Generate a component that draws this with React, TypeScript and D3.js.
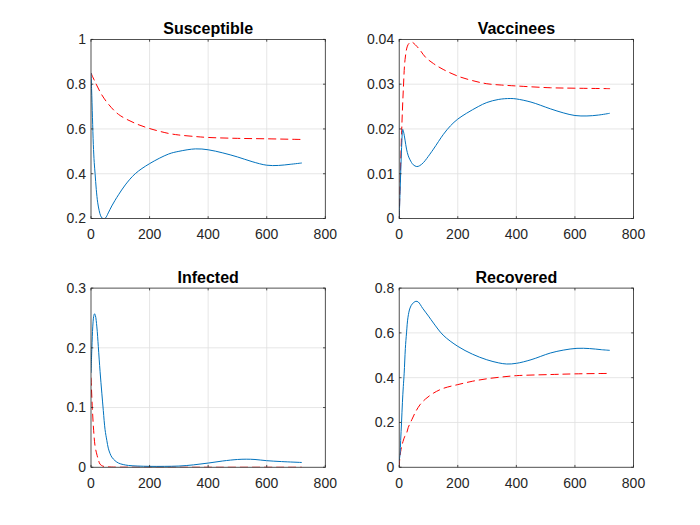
import * as d3 from 'd3';

// time ticks shared by all four panels
const timeTicks = [0, 200, 400, 600, 800];

// [day, value]; solid = blue curve, dashed = red curve
const susceptibleSolid: [number, number][] = [
  [0, 0.85], [2, 0.78], [5, 0.65], [8, 0.53], [11, 0.45], [14, 0.4], [18, 0.33], [23, 0.27],
  [28, 0.235], [33, 0.212], [38, 0.202], [44, 0.198], [50, 0.203], [59, 0.225], [71, 0.256],
  [82, 0.281], [94, 0.306], [117, 0.35], [151, 0.4], [200, 0.445], [265, 0.488], [300, 0.5],
  [357, 0.511], [400, 0.507], [450, 0.493], [500, 0.475], [550, 0.454], [600, 0.438],
  [640, 0.437], [680, 0.442], [720, 0.448],
];
const susceptibleDashed: [number, number][] = [
  [0, 0.85], [14, 0.81], [37, 0.752], [60, 0.71], [94, 0.665], [151, 0.625], [200, 0.602],
  [265, 0.58], [300, 0.573], [357, 0.566], [400, 0.562], [500, 0.558], [600, 0.556], [720, 0.553],
];
const susceptibleTicks = [0.2, 0.4, 0.6, 0.8, 1];

const vaccineesSolid: [number, number][] = [
  [0, 0], [3, 0.006], [6, 0.012], [9, 0.017], [12, 0.0199], [15, 0.0193], [20, 0.0175],
  [25, 0.0155], [31, 0.014], [37, 0.0131], [48, 0.012], [60, 0.0116], [70, 0.0118],
  [83, 0.0125], [94, 0.0134], [117, 0.0155], [151, 0.0188], [175, 0.0207], [200, 0.0222],
  [230, 0.0235], [270, 0.025], [299, 0.0259], [340, 0.0266], [379, 0.0268], [400, 0.0267],
  [450, 0.026], [516, 0.0245], [560, 0.0236], [600, 0.023], [641, 0.0229], [680, 0.0231],
  [719, 0.0235],
];
const vaccineesDashed: [number, number][] = [
  [0, 0], [4, 0.01], [8.5, 0.0197], [14, 0.0287], [20, 0.0355], [28, 0.0385], [35, 0.0392],
  [43, 0.0394], [55, 0.0388], [70, 0.0377], [90, 0.036], [117, 0.0346], [150, 0.0333],
  [200, 0.0318], [250, 0.0308], [299, 0.0301], [350, 0.0298], [400, 0.0296], [516, 0.0292],
  [600, 0.0291], [720, 0.029],
];
const vaccineesTicks = [0, 0.01, 0.02, 0.03, 0.04];

const infectedSolid: [number, number][] = [
  [0, 0.158], [3, 0.2], [6, 0.235], [9, 0.252], [12, 0.257], [15, 0.254], [20, 0.235],
  [25, 0.202], [31, 0.16], [37, 0.124], [42, 0.095], [48, 0.063], [54, 0.045], [59, 0.032],
  [65, 0.023], [71, 0.017], [82, 0.011], [94, 0.007], [110, 0.0045], [128, 0.003], [160, 0.002],
  [200, 0.0015], [250, 0.0015], [300, 0.002], [350, 0.004], [400, 0.007], [450, 0.0105],
  [500, 0.013], [530, 0.0135], [560, 0.013], [600, 0.011], [650, 0.0095], [720, 0.008],
];
const infectedDashed: [number, number][] = [
  [0, 0.15], [4.6, 0.099], [9, 0.062], [14, 0.035], [21, 0.0195], [26, 0.011], [31, 0.005],
  [40, 0.002], [48, 0.001], [70, 0.0003], [120, 0.0001], [200, 0], [400, 0], [720, 0],
];
const infectedTicks = [0, 0.1, 0.2, 0.3];

const recoveredSolid: [number, number][] = [
  [0, 0.03], [3, 0.06], [5, 0.12], [8, 0.2], [11, 0.29], [14, 0.36], [17, 0.42], [21, 0.53],
  [25, 0.6], [30, 0.67], [37, 0.711], [45, 0.73], [57, 0.741], [65, 0.738], [80, 0.71],
  [100, 0.675], [117, 0.644], [150, 0.59], [200, 0.54], [250, 0.505], [299, 0.48], [340, 0.466],
  [367, 0.461], [400, 0.464], [450, 0.48], [516, 0.51], [560, 0.523], [607, 0.531], [650, 0.53],
  [690, 0.525], [719, 0.522],
];
const recoveredDashed: [number, number][] = [
  [0, 0], [2, 0.04], [5, 0.07], [8, 0.09], [13, 0.115], [19, 0.138], [26, 0.155], [31, 0.178],
  [43, 0.212], [55, 0.245], [71, 0.279], [90, 0.305], [117, 0.331], [150, 0.352], [200, 0.369],
  [250, 0.384], [299, 0.395], [350, 0.403], [400, 0.409], [516, 0.414], [600, 0.417], [719, 0.419],
];
const recoveredTicks = [0, 0.2, 0.4, 0.6, 0.8];

const W = 700;
const H = 525;
const font = '"Liberation Sans", Arial, Helvetica, sans-serif';
const axisColor = '#262626';
const gridColor = '#dfdfdf';
const blue = '#0072BD';
const red = '#FF0000';

// MATLAB default subplot(2,2,k) positions
const colX = [[91, 325.3], [399.2, 633.5]];
const rowY = [[39.4, 218.5], [288.1, 467.25]];

const panels = [
  { title: 'Susceptible', solid: susceptibleSolid, dashed: susceptibleDashed, ticks: susceptibleTicks, col: 0, row: 0 },
  { title: 'Vaccinees', solid: vaccineesSolid, dashed: vaccineesDashed, ticks: vaccineesTicks, col: 1, row: 0 },
  { title: 'Infected', solid: infectedSolid, dashed: infectedDashed, ticks: infectedTicks, col: 0, row: 1 },
  { title: 'Recovered', solid: recoveredSolid, dashed: recoveredDashed, ticks: recoveredTicks, col: 1, row: 1 },
];

const Panel = ({ p, i }: { p: typeof panels[number]; i: number }) => {
  const [x0, x1] = colX[p.col];
  const [y0, y1] = rowY[p.row];
  const x = d3.scaleLinear().domain([0, 800]).range([x0, x1]);
  const yDomain = d3.extent(p.ticks) as [number, number];
  const y = d3.scaleLinear().domain(yDomain).range([y1, y0]);
  const line = d3.line<[number, number]>()
    .x(d => x(d[0]))
    .y(d => y(d[1]))
    .curve(d3.curveCatmullRom.alpha(0.5));
  const tl = 2.3;
  const clipId = `clip-${i}`;

  return (
    <g>
      <defs>
        <clipPath id={clipId}>
          <rect x={x0} y={y0} width={x1 - x0} height={y1 - y0} />
        </clipPath>
      </defs>
      <rect x={x0} y={y0} width={x1 - x0} height={y1 - y0} fill="#fff" />
      {timeTicks.slice(1, -1).map(t => (
        <line key={`gx${t}`} x1={x(t)} x2={x(t)} y1={y0} y2={y1} stroke={gridColor} strokeWidth={0.8} />
      ))}
      {p.ticks.slice(1, -1).map(v => (
        <line key={`gy${v}`} x1={x0} x2={x1} y1={y(v)} y2={y(v)} stroke={gridColor} strokeWidth={0.8} />
      ))}
      <g clipPath={`url(#${clipId})`} fill="none">
        <path d={line(p.dashed) ?? ''} stroke={red} strokeWidth={1} strokeDasharray="8,4" />
        <path d={line(p.solid) ?? ''} stroke={blue} strokeWidth={1} />
      </g>
      <rect x={x0} y={y0} width={x1 - x0} height={y1 - y0} fill="none" stroke={axisColor} strokeWidth={0.8} />
      {timeTicks.map(t => (
        <g key={`tx${t}`}>
          <line x1={x(t)} x2={x(t)} y1={y1} y2={y1 - tl} stroke={axisColor} strokeWidth={0.8} />
          <line x1={x(t)} x2={x(t)} y1={y0} y2={y0 + tl} stroke={axisColor} strokeWidth={0.8} />
          <text x={x(t)} y={y1 + 20.5} textAnchor="middle" fontSize={14} fill={axisColor} fontFamily={font}>
            {t}
          </text>
        </g>
      ))}
      {p.ticks.map(v => (
        <g key={`ty${v}`}>
          <line x1={x0} x2={x0 + tl} y1={y(v)} y2={y(v)} stroke={axisColor} strokeWidth={0.8} />
          <line x1={x1} x2={x1 - tl} y1={y(v)} y2={y(v)} stroke={axisColor} strokeWidth={0.8} />
          <text x={x0 - 5} y={y(v)} dy="0.35em" textAnchor="end" fontSize={14} fill={axisColor} fontFamily={font}>
            {String(v)}
          </text>
        </g>
      ))}
      <text x={(x0 + x1) / 2} y={y0 - 5} textAnchor="middle" fontSize={16} fontWeight="bold" fill="#000" fontFamily={font}>
        {p.title}
      </text>
    </g>
  );
};

export default function App() {
  return (
    <svg width={W} height={H} style={{ position: 'absolute', left: 0, top: 0, background: '#fff' }}>
      <rect width={W} height={H} fill="#fff" />
      {panels.map((p, i) => <Panel key={p.title} p={p} i={i} />)}
    </svg>
  );
}
